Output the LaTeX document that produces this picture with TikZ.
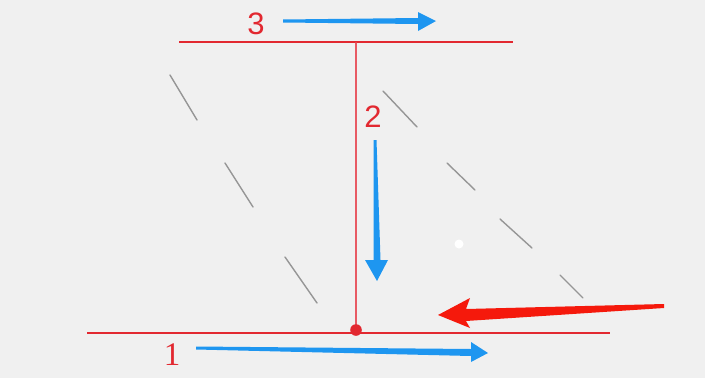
\documentclass[tikz,border=0pt]{standalone}
\usepackage{fontspec}
\setmainfont{Liberation Sans}
\newfontfamily\numserif{Liberation Serif}
\definecolor{bgpanel}{RGB}{240,240,240}
\definecolor{linered}{RGB}{226,40,48}
\definecolor{stemred}{RGB}{232,90,100}
\definecolor{pushred}{RGB}{245,25,12}
\definecolor{moveblue}{RGB}{30,150,240}
\definecolor{guidegray}{RGB}{150,150,150}

\begin{document}
\begin{tikzpicture}[x=1pt,y=-1pt,line cap=round,line join=round,
  lbl/.style={text=linered,inner sep=0pt,font=\fontsize{31}{33}\selectfont},
  guide/.style={guidegray,line width=1.4pt},
  rail/.style={linered,line width=1.9pt,line cap=butt}]
\fill[bgpanel] (0,0) rectangle (705,378);
\useasboundingbox (0,0) rectangle (705,378);
% slanted guides
\draw[guide] (170,75) -- (197,120);
\draw[guide] (225,163) -- (253,207);
\draw[guide] (285,257) -- (317,303);
\draw[guide] (383,91) -- (417,127);
\draw[guide] (447,163) -- (475,190);
\draw[guide] (500,219) -- (532,248);
\draw[guide] (560,275) -- (583,298);
% rails and stem
\coordinate (topL) at (179,42);
\coordinate (topR) at (513,42);
\coordinate (botL) at (87,333);
\coordinate (botR) at (610,333);
\coordinate (stemtop) at (356,43);
\coordinate (foot) at (356,330);
\draw[rail] (topL) -- (topR);
\draw[rail] (botL) -- (botR);
\draw[stemred,line width=1.8pt] (stemtop) -- (foot);
\fill[linered] (foot) circle (5.8pt);
\fill[white] (459,244) circle (4.5pt);
% labels
\node[lbl] (n3) at (256,24) {3};
\node[lbl] (n2) at (373,117) {2};
\node[lbl,font=\numserif\fontsize{33}{34}\selectfont] (n1) at (172,355) {1};
% blue motion arrows
\fill[moveblue] (283,19.5) -- (418,18) -- (418,12) -- (436,21) -- (418,31) -- (418,24) -- (283,22.5) -- cycle;
\fill[moveblue] (373.5,140) -- (373.5,260) -- (365,260) -- (377,281) -- (388,260) -- (380.5,260) -- (376.5,140) -- cycle;
\fill[moveblue] (196,346.5) -- (471,349) -- (471,342) -- (488,353) -- (471,362) -- (471,356) -- (196,349.5) -- cycle;
% red push arrow
\fill[pushred] (664,304) -- (466,309) -- (470,298) -- (438,315) -- (470,328) -- (466,321) -- (664,308) -- cycle;
\end{tikzpicture}
\end{document}
